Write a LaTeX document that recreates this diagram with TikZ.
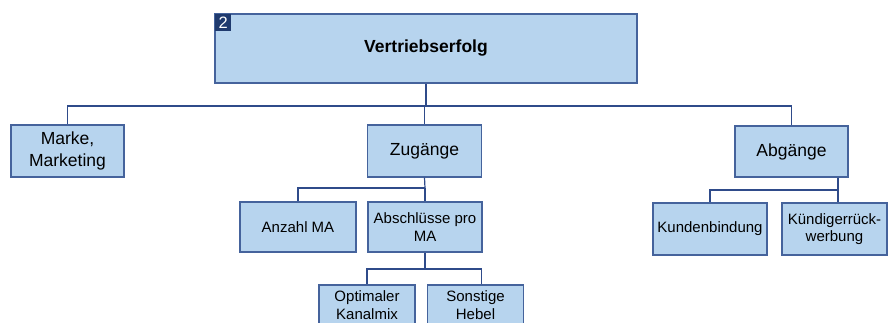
\documentclass[tikz,border=0pt]{standalone}
\usepackage{fontspec}
\setmainfont{Liberation Sans}
\definecolor{boxfill}{HTML}{B7D4EE}
\definecolor{boxline}{HTML}{45639C}
\definecolor{linkcol}{HTML}{2F4B8A}
\definecolor{badgecol}{HTML}{1F3A6E}
\usetikzlibrary{positioning}

\tikzset{
  box/.style={draw=boxline, fill=boxfill, line width=1.2pt, align=center,
    inner sep=1pt, font=\fontsize{17.5}{21.5}\selectfont},
  subbox/.style={box, font=\fontsize{15}{17.5}\selectfont},
  badge/.style={fill=badgecol, text=white, inner sep=0pt, minimum width=16pt,
    minimum height=17pt, font=\fontsize{16.5}{16.5}\selectfont},
  link/.style={draw=linkcol, line width=1.2pt}
}

\begin{document}
\begin{tikzpicture}[x=1pt,y=-1pt]

% Frame
\useasboundingbox (0,0) rectangle (888,323);
\clip (0,0) rectangle (888,323);

% Top level
\node[box, minimum width=422pt, minimum height=69pt, font=\fontsize{17.5}{21.5}\selectfont\bfseries]
  (erfolg) at (426,48.5) {Vertriebserfolg};
\node[badge, anchor=north west] (nr) at ([xshift=0.6pt,yshift=-0.6pt]erfolg.north west) {2};

% Second level
\node[box, minimum width=113pt, minimum height=52pt] (marke) at (67.5,151) {Marke,\\Marketing};
\node[box, minimum width=114pt, minimum height=52pt] (zug) at (424.5,151) {Zugänge};
\node[box, minimum width=113pt, minimum height=51pt] (abg) at (791.5,151.5) {Abgänge};

% Below Zugaenge
\node[subbox, minimum width=116pt, minimum height=50pt] (anzahl) at (298,227) {Anzahl MA};
\node[subbox, minimum width=114pt, minimum height=50pt] (abschl) at (425,227) {Abschlüsse pro\\MA};
\node[subbox, minimum width=96pt, minimum height=40pt] (kanal) at (367,305) {Optimaler\\Kanalmix};
\node[subbox, minimum width=96pt, minimum height=40pt] (hebel) at (475.5,305) {Sonstige\\Hebel};

% Below Abgaenge
\node[subbox, minimum width=114pt, minimum height=52pt] (kunden) at (710,229) {Kundenbindung};
\node[subbox, minimum width=105pt, minimum height=52pt] (rueck) at (834.5,229) {Kündigerrück-\\werbung};

% Connectors
\coordinate (bus) at (426,106);
\draw[link] (erfolg.south) -- (bus);
\draw[link] (bus) -| (marke.north);
\draw[link] (bus) -| (zug.north);
\draw[link] (bus) -| (abg.north);

\coordinate (zbus) at (425,188);
\draw[link] (zug.south) -- (zbus);
\draw[link] (zbus) -| (anzahl.north);
\draw[link] (zbus) -| (abschl.north);

\coordinate (abus) at (425,269);
\draw[link] (abschl.south) -- (abus);
\draw[link] (abus) -| (kanal.north);
\draw[link] (abus) -| ([xshift=6pt]hebel.north);

\coordinate (kbus) at (838,190);
\draw[link] (kbus |- abg.south) -- (kbus);
\draw[link] (kbus) -| (kunden.north);
\draw[link] (kbus) -- (kbus |- rueck.north);

\end{tikzpicture}
\end{document}
